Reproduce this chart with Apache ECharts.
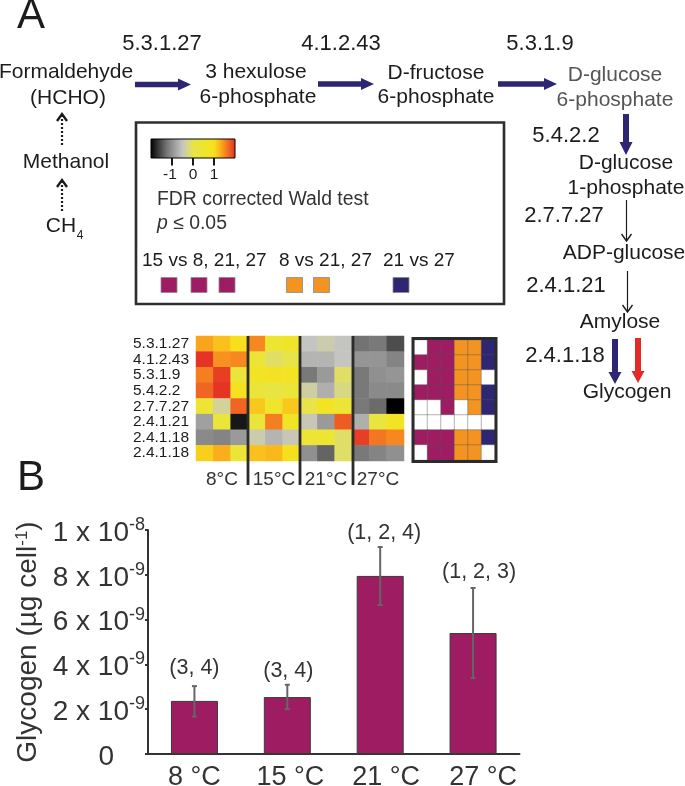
<!DOCTYPE html>
<html><head><meta charset="utf-8">
<style>html,body{margin:0;padding:0;background:#fff}#c{width:685px;height:786px}</style>
<script src="https://cdn.jsdelivr.net/npm/echarts@6/dist/echarts.min.js"></script>
</head><body><div id="c"></div>
<script>
const FF = '"Liberation Sans", Arial, sans-serif';
// ---- data ----
const enzymes = ['5.3.1.27','4.1.2.43','5.3.1.9','5.4.2.2','2.7.7.27','2.4.1.21','2.4.1.18','2.4.1.18'];
const heatColumns = ['','8°C','','','15°C','','','21°C','','','27°C',''];
const r1 = [1.35,1.2,1.0, 1.5,0.5,0.65, -0.5,-0.4,-0.5, -1.25,-1.2,-1.5];
const r2 = [1.95,1.45,1.5, 0.4,-0.1,0.0, -0.65,-0.65,-0.5, -0.95,-0.95,-1.1];
const r3 = [1.55,1.9,0.3, 0.75,0.85,0.8, -1.2,-0.9,-0.1, -1.2,-1,-0.95];
const r4 = [1.7,1.95,0.9, 0.3,0.1,0.3, -0.35,-0.7,-0.2, -1.2,-1.05,-1.05];
const r5 = [0.4,-0.3,1.7, 1.15,0.6,1.15, 0,0.8,0.4, -1.2,-1.3,-2];
const r6 = [-0.85,0.3,-1.85, 0.3,1.55,0.7, -0.45,-0.9,1.75, -0.7,0.15,0.75];
const r7 = [-1.05,-1.1,-0.9, -0.4,-0.65,-0.45, 0.4,0.45,-0.1, 1.9,1.6,1.5];
const r8 = [1.1,1.3,0.4, 1.2,1.25,1.0, -1,-1.35,-0.1, -1.2,-1.1,-1];
const heatRows = [r1,r2,r3,r4,r5,r6,r7,r8];
// significance: 0 none, 1 = 15 vs others, 2 = 8 vs 21/27, 3 = 21 vs 27
const s1 = [0,1,1,2,2,3];
const s2 = [1,1,1,2,2,3];
const s3 = [0,1,1,2,2,0];
const s4 = [1,1,1,2,2,3];
const s5 = [0,0,1,0,2,3];
const s6 = [0,0,0,0,0,0];
const s7 = [1,1,1,2,2,3];
const s8 = [0,1,1,2,2,0];
const sigRows = [s1,s2,s3,s4,s5,s6,s7,s8];
const temps = ['8 °C','15 °C','21 °C','27 °C'];
const glycogen = [2.37,2.54,7.95,5.4];      // x 10^-9
const errHigh = [3.03,3.09,9.24,7.41];
const errLow = [1.67,2.0,6.65,3.39];
const groups = ['(3, 4)','(3, 4)','(1, 2, 4)','(1, 2, 3)'];
const yTickLabels = {0:'0',2:'2 x 10|-9',4:'4 x 10|-9',6:'6 x 10|-9',8:'8 x 10|-9',10:'1 x 10|-8'};

// ---- styling ----
const PURPLE='#9d1c62', ORANGE='#f39321', NAVY='#2e2673', RED='#e32a26', INK='#1c1c1c', DARK='#333333';
const palette=['#000000','#262626','#4d4d4d','#737373','#909090','#aaaaaa','#c4c4c0','#d6d590','#e6e448','#eae53c','#ede530','#f2e424','#f6e01e','#fbb81a','#f6881f','#ee5c24','#e32a26'];
const nudgeX=[0,1,4,6], nudgeY=[18,14,14,16];

const g=[];
function T(text,x,y,size,o){o=o||{};g.push({type:'text',x,y,z:100,style:{text,fontSize:size,fontFamily:FF,fontStyle:o.italic?'italic':'normal',fill:o.fill||INK,align:o.align||'center',verticalAlign:'middle',rich:o.rich}});}
function L(x1,y1,x2,y2,w,color,dash){g.push({type:'line',z:100,shape:{x1,y1,x2,y2},style:{stroke:color,lineWidth:w,lineDash:dash||null}});}
function R(x,y,w,h,fill,stroke,lw){g.push({type:'rect',z:100,shape:{x,y,width:w,height:h},style:{fill,stroke,lineWidth:lw}});}
function fat(x1,y1,x2,y2,w,hw,hl,color){
  const d=Math.hypot(x2-x1,y2-y1),ux=(x2-x1)/d,uy=(y2-y1)/d,nx=-uy,ny=ux,bx=x2-ux*hl,by=y2-uy*hl;
  g.push({type:'polygon',z:100,shape:{points:[[x1+nx*w/2,y1+ny*w/2],[bx+nx*w/2,by+ny*w/2],[bx+nx*hw/2,by+ny*hw/2],[x2,y2],[bx-nx*hw/2,by-ny*hw/2],[bx-nx*w/2,by-ny*w/2],[x1-nx*w/2,y1-ny*w/2]]},style:{fill:color}});
}
function thin(x,y1,y2,lw,dash){
  const dir=y2>y1?1:-1;
  L(x,y1,x,y2,lw,INK,dash);
  g.push({type:'polyline',z:100,shape:{points:[[x-5,y2-dir*7],[x,y2],[x+5,y2-dir*7]]},style:{stroke:INK,lineWidth:lw+0.2,fill:null}});
}
// panel letters
T('A',31,16,42); T('B',31,478,42);
// top pathway
T('5.3.1.27',162,44,22); T('4.1.2.43',341,44,22); T('5.3.1.9',540,44,22);
T('Formaldehyde',66,72,21); T('(HCHO)',68,98,21);
T('3 hexulose',256,72,21); T('6-phosphate',258,97,21);
T('D-fructose',436,73,21); T('6-phosphate',436,97,21);
T('D-glucose',615,75,21,{fill:'#555555'}); T('6-phosphate',615,100,21,{fill:'#555555'});
fat(135,84.5,191,84.5,5.5,12,13,NAVY); fat(318,84,374,84,5.5,12,13,NAVY); fat(498,84,557,84,5.5,12,13,NAVY);
// methanol
T('Methanol',66,162,21); T('CH',61,226,21); T('4',80,236,12);
thin(62,145,114,2.2,[2,2]); thin(62,211,180,2.2,[2,2]);
// right column
fat(626,114,626,155,6,13,13,NAVY);
T('5.4.2.2',566,136,22); T('D-glucose',626,163,21); T('1-phosphate',626,188,21);
thin(626.5,200,241,1.2);
T('2.7.7.27',564,216,22); T('ADP-glucose',624,253,21);
thin(627.5,271,312,1.2);
T('2.4.1.21',566,286,22); T('Amylose',620,322,21);
fat(615,339,615,384,6,13,12,NAVY); fat(638,338,638,383,6,13,12,RED);
T('2.4.1.18',565,356,22); T('Glycogen',627,392,21);
// legend box
R(136,122.5,368,181.5,'none','#2e2e2e',2.6);
g.push({type:'rect',z:100,shape:{x:151,y:139,width:84,height:19},style:{stroke:'#000',lineWidth:1,
  fill:{type:'linear',x:0,y:0,x2:1,y2:0,colorStops:palette.map((c,i)=>({offset:i/(palette.length-1),color:c}))}}});
[172,193,214].forEach(x=>L(x,158,x,165.5,1.8,'#000'));
T('-1',170,175,15.5); T('0',193,175,15.5); T('1',214,175,15.5);
T('FDR corrected Wald test',157,200,19.4,{align:'left',fill:'#333'});
T('{i|p}{n| ≤ 0.05}',157,224,19.4,{align:'left',rich:{i:{fontStyle:'italic',fontSize:19.4,fontFamily:FF,fill:'#333'},n:{fontSize:19.4,fontFamily:FF,fill:'#333'}}});
T('15 vs 8, 21, 27',142,261,19,{align:'left'}); T('8 vs 21, 27',279,261,19,{align:'left'}); T('21 vs 27',383,261,19,{align:'left'});
[[161,PURPLE],[191,PURPLE],[219,PURPLE],[286.5,ORANGE],[313.5,ORANGE],[393,NAVY]].forEach(a=>R(a[0],277.5,16,15,a[1],'#8a8a8a',0.8));
// heatmap separators and box
[248,300,353].forEach(x=>L(x,336,x,485,2.8,'#2b2b2b'));
R(413,338.5,83,123,'none','#2b2b2b',3);

const heatData=[],sigData=[];
heatRows.forEach((r,i)=>r.forEach((v,j)=>heatData.push([j,i,v])));
sigRows.forEach((r,i)=>r.forEach((v,j)=>sigData.push([j,i,v])));

const catLabel={fontSize:27,fontFamily:FF,color:DARK};
const option={
  animation:false,
  textStyle:{fontFamily:FF},
  grid:[
    {left:196,top:336,width:208,height:125,outerBoundsMode:'none'},
    {left:414,top:340,width:81,height:120,outerBoundsMode:'none'},
    {left:148,top:530,width:371.5,height:224,outerBoundsMode:'none'}
  ],
  xAxis:[
    {type:'category',gridIndex:0,data:heatColumns,axisLine:{show:false},axisTick:{show:false},splitLine:{show:false},
     axisLabel:{interval:0,fontSize:19,fontFamily:FF,color:'#333',margin:9,hideOverlap:false}},
    {type:'category',gridIndex:1,data:[0,1,2,3,4,5],axisLine:{show:false},axisTick:{show:false},axisLabel:{show:false}},
    {type:'category',gridIndex:2,data:temps,axisLine:{lineStyle:{color:DARK,width:2}},axisTick:{show:false},
     axisLabel:{interval:0,margin:10,formatter:(v,i)=>'{c'+i+'|'+v+'}',
       rich:{c0:{...catLabel},c1:{...catLabel,padding:[0,0,0,6]},c2:{...catLabel,padding:[0,0,0,12]},c3:{...catLabel,padding:[0,0,0,20]}}}}
  ],
  yAxis:[
    {type:'category',gridIndex:0,inverse:true,data:enzymes,axisLine:{show:false},axisTick:{show:false},splitLine:{show:false},
     axisLabel:{interval:0,fontSize:15.5,fontFamily:FF,color:INK,align:'left',margin:63}},
    {type:'category',gridIndex:1,inverse:true,data:enzymes,axisLine:{show:false},axisTick:{show:false},axisLabel:{show:false}},
    {type:'value',gridIndex:2,min:0,max:10,interval:2,splitLine:{show:false},
     axisLine:{show:true,lineStyle:{color:DARK,width:2}},axisTick:{show:true,length:3,lineStyle:{color:DARK,width:2}},
     axisLabel:{margin:3,color:DARK,formatter:v=>{
       const s=yTickLabels[v]; if(!s.includes('|')) return '{z|'+s+'}';
       const p=s.split('|'); return '{a|'+p[0]+'}{b|'+p[1]+'}';},
       rich:{a:{fontSize:28,fontFamily:FF,color:DARK,lineHeight:28,padding:[6,0,0,0]},
             b:{fontSize:18,fontFamily:FF,color:DARK,verticalAlign:'top',lineHeight:16},
             z:{fontSize:28,fontFamily:FF,color:DARK,padding:[6,31,0,0]}}},
     name:'{a|Glycogen (µg cell}{b|-1}{a|)}',nameLocation:'middle',nameGap:105,nameRotate:90,
     nameTextStyle:{rich:{a:{fontSize:28,fontFamily:FF,color:DARK},b:{fontSize:17,fontFamily:FF,color:DARK,verticalAlign:'top',lineHeight:14}}}}
  ],
  visualMap:[
    {type:'continuous',show:false,seriesIndex:0,min:-2,max:2,inRange:{color:palette}},
    {type:'piecewise',show:false,seriesIndex:1,pieces:[{value:0,color:'#ffffff'},{value:1,color:PURPLE},{value:2,color:ORANGE},{value:3,color:NAVY}]}
  ],
  graphic:g,
  series:[
    {type:'heatmap',xAxisIndex:0,yAxisIndex:0,data:heatData,itemStyle:{borderWidth:0}},
    {type:'heatmap',xAxisIndex:1,yAxisIndex:1,data:sigData,itemStyle:{borderColor:'#555555',borderWidth:0.4}},
    {type:'bar',xAxisIndex:2,yAxisIndex:2,data:glycogen,barWidth:47,itemStyle:{color:PURPLE,borderColor:'#3a3a3a',borderWidth:1}},
    {type:'custom',xAxisIndex:2,yAxisIndex:2,z:5,data:temps.map((t,i)=>[i,errLow[i],errHigh[i]]),
     renderItem:(p,api)=>{
       const i=api.value(0),lo=api.coord([i,api.value(1)]),hi=api.coord([i,api.value(2)]),x=lo[0];
       const st={stroke:'#666666',lineWidth:2};
       return {type:'group',children:[
         {type:'line',shape:{x1:x,y1:lo[1],x2:x,y2:hi[1]},style:st},
         {type:'line',shape:{x1:x-2.5,y1:lo[1],x2:x+2.5,y2:lo[1]},style:st},
         {type:'line',shape:{x1:x-2.5,y1:hi[1],x2:x+2.5,y2:hi[1]},style:st},
         {type:'text',x:x+nudgeX[i],y:hi[1]-nudgeY[i],style:{text:groups[i],fontSize:21.5,fontFamily:FF,fill:DARK,align:'center',verticalAlign:'middle'}}
       ]};
     }}
  ]
};
echarts.init(document.getElementById('c'),null,{renderer:'canvas'}).setOption(option);
</script></body></html>
